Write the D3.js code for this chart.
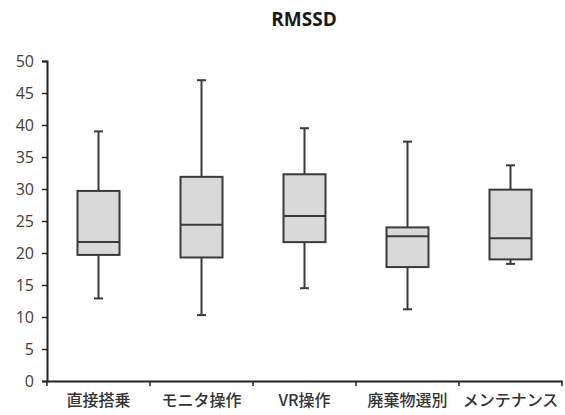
<!DOCTYPE html>
<html><head><meta charset="utf-8">
<script src="https://cdn.jsdelivr.net/npm/d3@7"></script>
<style>body{margin:0;background:#fff;}svg{display:block;}</style>
</head><body><svg id="c" width="565" height="415"></svg>
<script>
const categories = ["直接搭乗","モニタ操作","VR操作","廃棄物選別","メンテナンス"];
const whiskerMin = [12.9, 10.3, 14.5, 11.2, 18.3];
const q1 = [19.7, 19.3, 21.7, 17.8, 19.0];
const median = [21.7, 24.4, 25.8, 22.6, 22.3];
const q3 = [29.7, 31.9, 32.3, 24.0, 29.9];
const whiskerMax = [39.0, 47.0, 39.5, 37.4, 33.7];
const yTicks = [0,5,10,15,20,25,30,35,40,45,50];
const title = "RMSSD";

const svg = d3.select("#c");
const mLeft = 47, mRight = 562, mTop = 61, mBottom = 381;
const x = d3.scaleBand().domain(categories).range([mLeft, mRight]);
const y = d3.scaleLinear().domain([0, 50]).range([mBottom, mTop]);
const font = "'Noto Sans CJK JP','Open Sans',sans-serif";
const stroke = "#3a3a3a";

svg.append("text").attr("x", 304).attr("y", 26).attr("text-anchor","middle")
  .attr("font-family", "'Open Sans',sans-serif").attr("font-weight","bold").attr("font-size",19)
  .attr("fill","#1a1a1a").text(title);

const yAxis = svg.append("g").attr("transform",`translate(${mLeft},0)`)
  .call(d3.axisLeft(y).tickValues(yTicks).tickSize(5).tickPadding(8));
yAxis.select(".domain").attr("stroke","#222").attr("stroke-width",2);
yAxis.selectAll(".tick line").attr("stroke","#222").attr("stroke-width",1.5);
yAxis.selectAll("text").attr("font-family","'Open Sans',sans-serif").attr("font-size",16).attr("fill","#404040");

const xAxis = svg.append("g").attr("transform",`translate(0,${mBottom})`)
  .call(d3.axisBottom(x).tickSize(0).tickPadding(14));
xAxis.select(".domain").attr("stroke","#222").attr("stroke-width",2);
xAxis.selectAll("text").attr("font-family",font).attr("font-size",16).attr("font-weight",500).attr("fill","#333");
const edges = categories.map(c => x(c)).concat([mRight]);
svg.append("g").selectAll("line").data(edges).join("line")
  .attr("x1",d=>d).attr("x2",d=>d).attr("y1",mBottom).attr("y2",mBottom+5)
  .attr("stroke","#222").attr("stroke-width",1.5);

const bw = 42, cap = 9;
const g = svg.append("g");
categories.forEach((c,i) => {
  const cx = x(c) + x.bandwidth()/2;
  g.append("line").attr("x1",cx).attr("x2",cx).attr("y1",y(whiskerMax[i])).attr("y2",y(q3[i])).attr("stroke",stroke).attr("stroke-width",2);
  g.append("line").attr("x1",cx).attr("x2",cx).attr("y1",y(q1[i])).attr("y2",y(whiskerMin[i])).attr("stroke",stroke).attr("stroke-width",2);
  g.append("line").attr("x1",cx-cap/2).attr("x2",cx+cap/2).attr("y1",y(whiskerMax[i])).attr("y2",y(whiskerMax[i])).attr("stroke",stroke).attr("stroke-width",2);
  g.append("line").attr("x1",cx-cap/2).attr("x2",cx+cap/2).attr("y1",y(whiskerMin[i])).attr("y2",y(whiskerMin[i])).attr("stroke",stroke).attr("stroke-width",2);
  g.append("rect").attr("x",cx-bw/2).attr("width",bw).attr("y",y(q3[i])).attr("height",y(q1[i])-y(q3[i]))
    .attr("fill","#d9d9d9").attr("stroke",stroke).attr("stroke-width",2);
  g.append("line").attr("x1",cx-bw/2).attr("x2",cx+bw/2).attr("y1",y(median[i])).attr("y2",y(median[i])).attr("stroke",stroke).attr("stroke-width",2);
});
</script></body></html>
